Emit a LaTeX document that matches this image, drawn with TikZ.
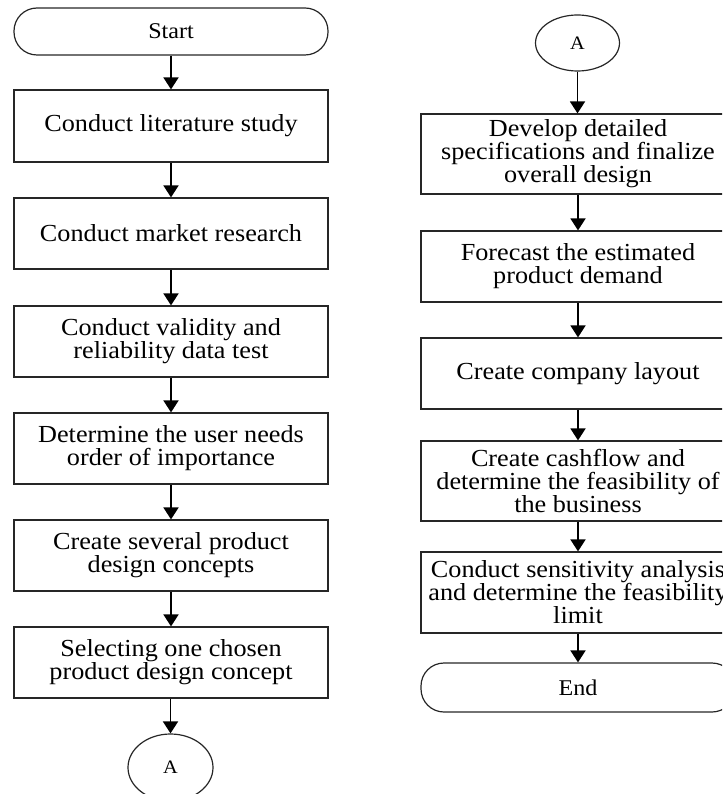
\documentclass[tikz,border=0pt]{standalone}
\usepackage{fontspec}
\setmainfont{Liberation Serif}[FakeStretch=1.07]
\usetikzlibrary{arrows.meta,shapes.geometric}
\tikzset{
  proc/.style={draw=black!85,line width=1.2pt,minimum width=314pt,inner sep=0pt,rectangle},
  txt/.style={align=center,inner sep=0pt,font=\fontsize{24.5}{23}\selectfont},
  term/.style={draw=black!85,line width=1.2pt,minimum width=314pt,rounded corners=23pt,inner sep=0pt,font=\fontsize{22.5}{23}\selectfont},
  conn/.style={draw=black!85,line width=1.2pt,ellipse,inner sep=0pt,font=\fontsize{19}{20}\selectfont},
  arr/.style={line width=1.8pt,-{Triangle[width=15pt,length=12pt]}}
}
\newcommand\pbx[4]{\node[proc,minimum height=#3] (#1) at (#2) {}; \node[txt] (#1t) at (#1) {#4};}
\begin{document}
\begin{tikzpicture}[x=1pt,y=-1pt]
\useasboundingbox (0,0) rectangle (722,794);
\clip (0,0) rectangle (722,794);
% left column
\node[term,minimum height=47pt] (start) at (171,31.5) {Start};
\pbx{b1}{171,126}{72pt}{Conduct literature study}
\pbx{b2}{171,233.5}{71pt}{Conduct market research}
\pbx{b3}{171,341.5}{71pt}{Conduct validity and\\reliability data test}
\pbx{b4}{171,448.5}{71pt}{Determine the user needs\\order of importance}
\pbx{b5}{171,555.5}{71pt}{Create several product\\design concepts}
\pbx{b6}{171,662.5}{71pt}{Selecting one chosen\\product design concept}
\node[conn,minimum width=85pt,minimum height=67pt] (a1) at (170.5,767.5) {A};
% right column
\node[conn,minimum width=84pt,minimum height=56pt] (a2) at (577.5,43) {A};
\pbx{r1}{578,154}{80pt}{Develop detailed\\specifications and finalize\\overall design}
\pbx{r2}{578,266.5}{71pt}{Forecast the estimated\\product demand}
\pbx{r3}{578,373.5}{71pt}{Create company layout}
\pbx{r4}{578,481}{80pt}{Create cashflow and\\determine the feasibility of\\the business}
\pbx{r5}{578,592.5}{81pt}{Conduct sensitivity analysis\\and determine the feasibility\\limit}
\node[term,minimum height=49pt] (end) at (578,687.5) {End};
% arrows
\draw[arr] (start) -- (b1);
\draw[arr] (b1) -- (b2);
\draw[arr] (b2) -- (b3);
\draw[arr] (b3) -- (b4);
\draw[arr] (b4) -- (b5);
\draw[arr] (b5) -- (b6);
\draw[arr] (b6.south -| a1) -- (a1);
\draw[arr] (a2) -- (r1.north -| a2);
\draw[arr] (r1) -- (r2);
\draw[arr] (r2) -- (r3);
\draw[arr] (r3) -- (r4);
\draw[arr] (r4) -- (r5);
\draw[arr] (r5) -- (end);
\end{tikzpicture}
\end{document}
